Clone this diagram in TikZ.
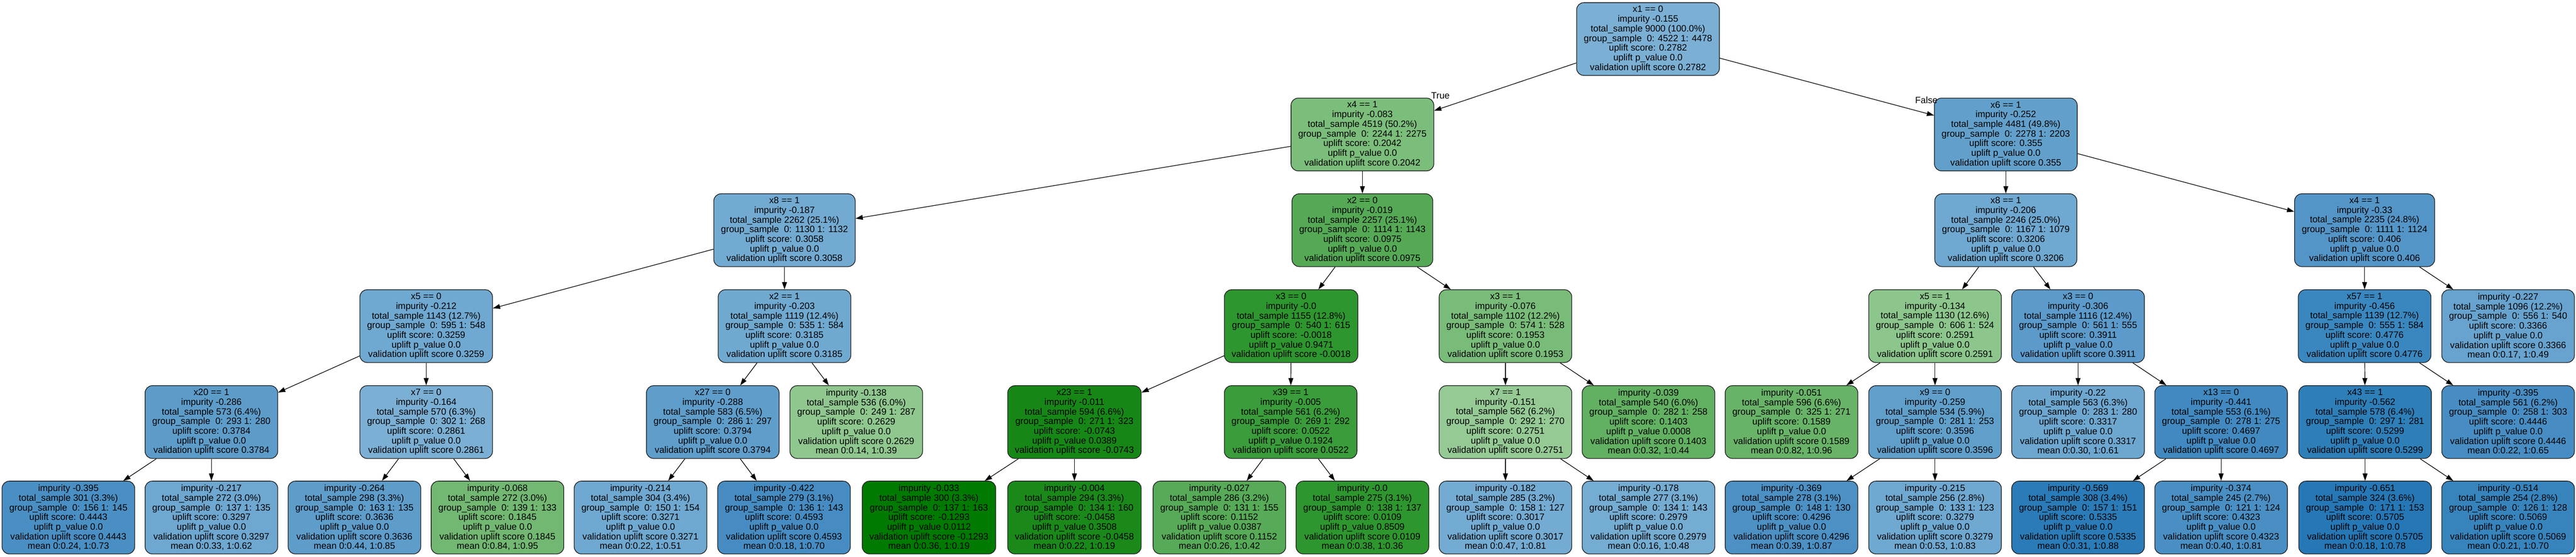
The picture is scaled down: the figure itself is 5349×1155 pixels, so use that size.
\documentclass[tikz,border=0pt]{standalone}
\usepackage{fontspec}
\setmainfont{Liberation Sans}
\usetikzlibrary{arrows.meta}
\newcommand\stdl[6]{impurity #1\\total\_sample #2\\group\_sample\ \ #3\\uplift score: #4\\uplift p\_value #5\\validation uplift score #6}
\begin{document}
\begin{tikzpicture}[x=1pt,y=-1pt,
  tn/.style={draw={rgb,255:red,30;green,30;blue,30}, line width=1.4pt, rounded corners=15pt, align=center,
    font=\fontsize{19}{20}\selectfont, inner xsep=15pt, inner ysep=3pt, minimum height=151pt},
  edge/.style={draw=black, line width=1.3pt, -{Triangle[length=15pt,width=10pt]}},
  lbl/.style={font=\fontsize{19}{20}\selectfont, inner sep=0pt}]
\useasboundingbox (0,0) rectangle (5349,1155);
\fill[white] (0,0) rectangle (5349,1155);
% row 1
\node[tn, fill={rgb,255:red,123;green,175;blue,212}] (r) at (3422,81) {x1 == 0\\\stdl{-0.155}{9000 (100.0\%)}{0: 4522 1: 4478}{0.2782}{0.0}{0.2782}};
% row 2
\node[tn, fill={rgb,255:red,123;green,189;blue,123}] (a) at (2829,279) {x4 == 1\\\stdl{-0.083}{4519 (50.2\%)}{0: 2244 1: 2275}{0.2042}{0.0}{0.2042}};
\node[tn, fill={rgb,255:red,98;green,160;blue,203}] (b) at (4165,279) {x6 == 1\\\stdl{-0.252}{4481 (49.8\%)}{0: 2278 1: 2203}{0.355}{0.0}{0.355}};
% row 3
\node[tn, fill={rgb,255:red,114;green,170;blue,209}] (a1) at (1629,477.5) {x8 == 1\\\stdl{-0.187}{2262 (25.1\%)}{0: 1130 1: 1132}{0.3058}{0.0}{0.3058}};
\node[tn, fill={rgb,255:red,85;green,169;blue,85}] (a2) at (2829,477.5) {x2 == 0\\\stdl{-0.019}{2257 (25.1\%)}{0: 1114 1: 1143}{0.0975}{0.0}{0.0975}};
\node[tn, fill={rgb,255:red,111;green,168;blue,208}] (b1) at (4165,477.5) {x8 == 1\\\stdl{-0.206}{2246 (25.0\%)}{0: 1167 1: 1079}{0.3206}{0.0}{0.3206}};
\node[tn, fill={rgb,255:red,84;green,149;blue,199}] (b2) at (4910,477.5) {x4 == 1\\\stdl{-0.33}{2235 (24.8\%)}{0: 1111 1: 1124}{0.406}{0.0}{0.406}};
% row 4
\node[tn, fill={rgb,255:red,111;green,168;blue,208}] (c1) at (885,676.5) {x5 == 0\\\stdl{-0.212}{1143 (12.7\%)}{0: 595 1: 548}{0.3259}{0.0}{0.3259}};
\node[tn, fill={rgb,255:red,112;green,169;blue,208}] (c2) at (1629,676.5) {x2 == 1\\\stdl{-0.203}{1119 (12.4\%)}{0: 535 1: 584}{0.3185}{0.0}{0.3185}};
\node[tn, fill={rgb,255:red,46;green,150;blue,46}] (c3) at (2681,676.5) {x3 == 0\\\stdl{-0.0}{1155 (12.8\%)}{0: 540 1: 615}{-0.0018}{0.9471}{-0.0018}};
\node[tn, fill={rgb,255:red,121;green,187;blue,121}] (c4) at (3126,676.5) {x3 == 1\\\stdl{-0.076}{1102 (12.2\%)}{0: 574 1: 528}{0.1953}{0.0}{0.1953}};
\node[tn, fill={rgb,255:red,140;green,198;blue,140}] (c5) at (4018,676.5) {x5 == 1\\\stdl{-0.134}{1130 (12.6\%)}{0: 606 1: 524}{0.2591}{0.0}{0.2591}};
\node[tn, fill={rgb,255:red,91;green,154;blue,202}] (c6) at (4315,676.5) {x3 == 0\\\stdl{-0.306}{1116 (12.4\%)}{0: 561 1: 555}{0.3911}{0.0}{0.3911}};
\node[tn, fill={rgb,255:red,58;green,135;blue,191}] (c7) at (4910,676.5) {x57 == 1\\\stdl{-0.456}{1139 (12.7\%)}{0: 555 1: 584}{0.4776}{0.0}{0.4776}};
\node[tn, fill={rgb,255:red,103;green,163;blue,206}] (c8) at (5208,676.5) {\stdl{-0.227}{1096 (12.2\%)}{0: 556 1: 540}{0.3366}{0.0}{0.3366}\\mean 0:0.17, 1:0.49};
% row 5
\node[tn, fill={rgb,255:red,93;green,156;blue,201}] (d1) at (439,875.5) {x20 == 1\\\stdl{-0.286}{573 (6.4\%)}{0: 293 1: 280}{0.3784}{0.0}{0.3784}};
\node[tn, fill={rgb,255:red,123;green,175;blue,212}] (d2) at (885,875.5) {x7 == 0\\\stdl{-0.164}{570 (6.3\%)}{0: 302 1: 268}{0.2861}{0.0}{0.2861}};
\node[tn, fill={rgb,255:red,95;green,157;blue,202}] (d3) at (1480,875.5) {x27 == 0\\\stdl{-0.288}{583 (6.5\%)}{0: 286 1: 297}{0.3794}{0.0}{0.3794}};
\node[tn, fill={rgb,255:red,143;green,199;blue,143}] (d4) at (1778,875.5) {\stdl{-0.138}{536 (6.0\%)}{0: 249 1: 287}{0.2629}{0.0}{0.2629}\\mean 0:0.14, 1:0.39};
\node[tn, fill={rgb,255:red,22;green,135;blue,22}] (d5) at (2231,875.5) {x23 == 1\\\stdl{-0.011}{594 (6.6\%)}{0: 271 1: 323}{-0.0743}{0.0389}{-0.0743}};
\node[tn, fill={rgb,255:red,58;green,156;blue,58}] (d6) at (2680,875.5) {x39 == 1\\\stdl{-0.005}{561 (6.2\%)}{0: 269 1: 292}{0.0522}{0.1924}{0.0522}};
\node[tn, fill={rgb,255:red,149;green,202;blue,149}] (d7) at (3126,875.5) {x7 == 1\\\stdl{-0.151}{562 (6.2\%)}{0: 292 1: 270}{0.2751}{0.0}{0.2751}};
\node[tn, fill={rgb,255:red,98;green,176;blue,98}] (d8) at (3423,875.5) {\stdl{-0.039}{540 (6.0\%)}{0: 282 1: 258}{0.1403}{0.0008}{0.1403}\\mean 0:0.32, 1:0.44};
\node[tn, fill={rgb,255:red,104;green,179;blue,104}] (d9) at (3720,875.5) {\stdl{-0.051}{596 (6.6\%)}{0: 325 1: 271}{0.1589}{0.0}{0.1589}\\mean 0:0.82, 1:0.96};
\node[tn, fill={rgb,255:red,97;green,159;blue,203}] (d10) at (4018,875.5) {x9 == 0\\\stdl{-0.259}{534 (5.9\%)}{0: 281 1: 253}{0.3596}{0.0}{0.3596}};
\node[tn, fill={rgb,255:red,109;green,167;blue,208}] (d11) at (4315,875.5) {\stdl{-0.22}{563 (6.3\%)}{0: 283 1: 280}{0.3317}{0.0}{0.3317}\\mean 0:0.30, 1:0.61};
\node[tn, fill={rgb,255:red,65;green,137;blue,192}] (d12) at (4612,875.5) {x13 == 0\\\stdl{-0.441}{553 (6.1\%)}{0: 278 1: 275}{0.4697}{0.0}{0.4697}};
\node[tn, fill={rgb,255:red,46;green,126;blue,184}] (d13) at (4911,875.5) {x43 == 1\\\stdl{-0.562}{578 (6.4\%)}{0: 297 1: 281}{0.5299}{0.0}{0.5299}};
\node[tn, fill={rgb,255:red,71;green,141;blue,195}] (d14) at (5208,875.5) {\stdl{-0.395}{561 (6.2\%)}{0: 258 1: 303}{0.4446}{0.0}{0.4446}\\mean 0:0.22, 1:0.65};
% row 6
\node[tn, fill={rgb,255:red,74;green,143;blue,195}] (e1) at (142,1073.5) {\stdl{-0.395}{301 (3.3\%)}{0: 156 1: 145}{0.4443}{0.0}{0.4443}\\mean 0:0.24, 1:0.73};
\node[tn, fill={rgb,255:red,110;green,167;blue,208}] (e2) at (439,1073.5) {\stdl{-0.217}{272 (3.0\%)}{0: 137 1: 135}{0.3297}{0.0}{0.3297}\\mean 0:0.33, 1:0.62};
\node[tn, fill={rgb,255:red,94;green,156;blue,202}] (e3) at (736,1073.5) {\stdl{-0.264}{298 (3.3\%)}{0: 163 1: 135}{0.3636}{0.0}{0.3636}\\mean 0:0.44, 1:0.85};
\node[tn, fill={rgb,255:red,114;green,183;blue,114}] (e4) at (1033,1073.5) {\stdl{-0.068}{272 (3.0\%)}{0: 139 1: 133}{0.1845}{0.0}{0.1845}\\mean 0:0.84, 1:0.95};
\node[tn, fill={rgb,255:red,111;green,168;blue,208}] (e5) at (1330,1073.5) {\stdl{-0.214}{304 (3.4\%)}{0: 150 1: 154}{0.3271}{0.0}{0.3271}\\mean 0:0.22, 1:0.51};
\node[tn, fill={rgb,255:red,70;green,140;blue,194}] (e6) at (1628,1073.5) {\stdl{-0.422}{279 (3.1\%)}{0: 136 1: 143}{0.4593}{0.0}{0.4593}\\mean 0:0.18, 1:0.70};
\node[tn, fill={rgb,255:red,0;green,122;blue,0}] (e7) at (1929,1073.5) {\stdl{-0.033}{300 (3.3\%)}{0: 137 1: 163}{-0.1293}{0.0112}{-0.1293}\\mean 0:0.36, 1:0.19};
\node[tn, fill={rgb,255:red,26;green,137;blue,26}] (e8) at (2231,1073.5) {\stdl{-0.004}{294 (3.3\%)}{0: 134 1: 160}{-0.0458}{0.3508}{-0.0458}\\mean 0:0.22, 1:0.19};
\node[tn, fill={rgb,255:red,87;green,170;blue,87}] (e9) at (2532,1073.5) {\stdl{-0.027}{286 (3.2\%)}{0: 131 1: 155}{0.1152}{0.0387}{0.1152}\\mean 0:0.26, 1:0.42};
\node[tn, fill={rgb,255:red,46;green,150;blue,46}] (e10) at (2829,1073.5) {\stdl{-0.0}{275 (3.1\%)}{0: 138 1: 137}{0.0109}{0.8509}{0.0109}\\mean 0:0.38, 1:0.36};
\node[tn, fill={rgb,255:red,116;green,171;blue,210}] (e11) at (3126,1073.5) {\stdl{-0.182}{285 (3.2\%)}{0: 158 1: 127}{0.3017}{0.0}{0.3017}\\mean 0:0.47, 1:0.81};
\node[tn, fill={rgb,255:red,117;green,172;blue,210}] (e12) at (3423,1073.5) {\stdl{-0.178}{277 (3.1\%)}{0: 134 1: 143}{0.2979}{0.0}{0.2979}\\mean 0:0.16, 1:0.48};
\node[tn, fill={rgb,255:red,76;green,144;blue,196}] (e13) at (3720,1073.5) {\stdl{-0.369}{278 (3.1\%)}{0: 148 1: 130}{0.4296}{0.0}{0.4296}\\mean 0:0.39, 1:0.87};
\node[tn, fill={rgb,255:red,111;green,168;blue,208}] (e14) at (4018,1073.5) {\stdl{-0.215}{256 (2.8\%)}{0: 133 1: 123}{0.3279}{0.0}{0.3279}\\mean 0:0.53, 1:0.83};
\node[tn, fill={rgb,255:red,42;green,123;blue,183}] (e15) at (4315,1073.5) {\stdl{-0.569}{308 (3.4\%)}{0: 157 1: 151}{0.5335}{0.0}{0.5335}\\mean 0:0.31, 1:0.88};
\node[tn, fill={rgb,255:red,74;green,143;blue,195}] (e16) at (4612,1073.5) {\stdl{-0.374}{245 (2.7\%)}{0: 121 1: 124}{0.4323}{0.0}{0.4323}\\mean 0:0.40, 1:0.81};
\node[tn, fill={rgb,255:red,38;green,119;blue,181}] (e17) at (4911,1073.5) {\stdl{-0.651}{324 (3.6\%)}{0: 171 1: 153}{0.5705}{0.0}{0.5705}\\mean 0:0.18, 1:0.78};
\node[tn, fill={rgb,255:red,55;green,132;blue,189}] (e18) at (5208,1073.5) {\stdl{-0.514}{254 (2.8\%)}{0: 126 1: 128}{0.5069}{0.0}{0.5069}\\mean 0:0.21, 1:0.70};
% edges
\draw[edge] (r) -- (a);
\draw[edge] (r) -- (b);
\node[lbl] (tl) at (2991,198) {True};
\node[lbl] (fl) at (4000,208) {False};
\foreach \p/\c in {a/a1,a/a2,b/b1,b/b2,a1/c1,a1/c2,a2/c3,a2/c4,b1/c5,b1/c6,b2/c7,b2/c8,
  c1/d1,c1/d2,c2/d3,c2/d4,c3/d5,c3/d6,c4/d7,c4/d8,c5/d9,c5/d10,c6/d11,c6/d12,c7/d13,c7/d14,
  d1/e1,d1/e2,d2/e3,d2/e4,d3/e5,d3/e6,d5/e7,d5/e8,d6/e9,d6/e10,d7/e11,d7/e12,d10/e13,d10/e14,
  d12/e15,d12/e16,d13/e17,d13/e18}
  \draw[edge] (\p) -- (\c);
\end{tikzpicture}
\end{document}
